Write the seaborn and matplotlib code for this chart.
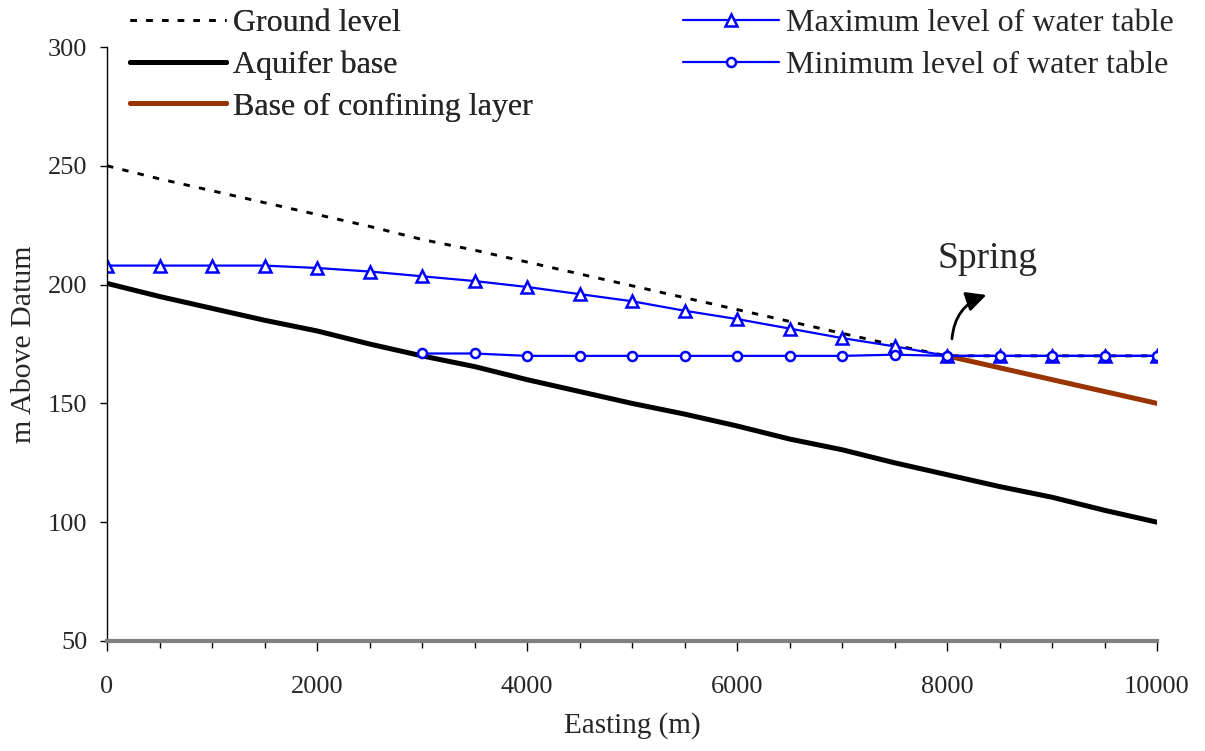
import pandas as pd
import seaborn as sns
import matplotlib.pyplot as plt
from matplotlib.ticker import MultipleLocator

# values (m above datum)
easting = [0, 500, 1000, 1500, 2000, 2500, 3000, 3500, 4000, 4500, 5000,
           5500, 6000, 6500, 7000, 7500, 8000, 8500, 9000, 9500, 10000]
ground = [250, 244.5, 239.5, 234.5, 229.5, 224.5, 219, 214.5, 209.5, 204.5, 199.5,
          194.5, 189.5, 184.5, 179.5, 174.5, 170, 170, 170, 170, 170]
aquifer = [200.5, 195, 190, 185, 180.5, 175, 170, 165.5, 160, 155, 150,
           145.5, 140.5, 135, 130.5, 125, 120, 115, 110.5, 105, 100]
max_wt = [208, 208, 208, 208, 207, 205.5, 203.5, 201.5, 199, 196, 193,
          189, 185.5, 181.5, 177.5, 174, 170, 170, 170, 170, 170]
min_x = [3000, 3500, 4000, 4500, 5000, 5500, 6000, 6500, 7000, 7500, 8000,
         8500, 9000, 9500, 10000]
min_wt = [171, 171, 170, 170, 170, 170, 170, 170, 170, 170.5, 170,
          170, 170, 170, 170]
conf_x = [8000, 10000]
conf_base = [170, 150]

sns.set_style("white")
plt.rcParams['font.family'] = ['Liberation Serif', 'DejaVu Serif']

fig = plt.figure(figsize=(12.05, 7.51), dpi=100)
ax = fig.add_axes([0.0888, 0.1465, 0.8714, 0.7909])

blue = "#0000ff"
brown = "#993300"

sns.lineplot(x=easting, y=ground, ax=ax, color="black", lw=2.1,
             dashes=False, label="Ground level").lines[-1].set_dashes((2.2, 3.2))
sns.lineplot(x=easting, y=aquifer, ax=ax, color="black", lw=3.6,
             label="Aquifer base")
sns.lineplot(x=conf_x, y=conf_base, ax=ax, color=brown, lw=3.6,
             label="Base of confining layer", solid_capstyle="round")
sns.lineplot(x=easting, y=max_wt, ax=ax, color=blue, lw=1.6, marker="^",
             markersize=9, markerfacecolor="white", markeredgecolor=blue,
             markeredgewidth=1.8, label="Maximum level of water table")
sns.lineplot(x=min_x, y=min_wt, ax=ax, color=blue, lw=1.6, marker="o",
             markersize=6.5, markerfacecolor="white", markeredgecolor=blue,
             markeredgewidth=1.8, label="Minimum level of water table")

ax.set_xlim(0, 10000)
ax.set_ylim(50, 300)
ax.xaxis.set_major_locator(MultipleLocator(2000))
ax.xaxis.set_minor_locator(MultipleLocator(500))
ax.yaxis.set_major_locator(MultipleLocator(50))

for s in ["top", "right"]:
    ax.spines[s].set_visible(False)
ax.spines["left"].set_color("black")
ax.spines["left"].set_linewidth(1.0)
ax.spines["bottom"].set_color("#808080")
ax.spines["bottom"].set_linewidth(3)

ax.tick_params(axis="y", which="major", direction="out", length=5, width=1,
               color="black", left=True, labelsize=19, pad=9)
ax.tick_params(axis="x", which="major", direction="out", length=7, width=1,
               color="black", bottom=True, labelsize=19, pad=18)
ax.tick_params(axis="x", which="minor", direction="out", length=5, width=1,
               color="black", bottom=True)

ax.set_xlabel("Easting (m)", fontsize=21, labelpad=10)
ax.set_ylabel("m Above Datum", fontsize=21.5, labelpad=8)

handles, labels = ax.get_legend_handles_labels()
ax.get_legend().remove()
leg_kw = dict(loc="upper left", frameon=False, fontsize=23, handlelength=3.0,
              handletextpad=0.22, labelspacing=0.38, borderaxespad=0,
              borderpad=0)
leg1 = fig.legend(handles[:3], labels[:3], bbox_to_anchor=(0.108, 0.988),
                  **leg_kw)
fig.legend(handles[3:], labels[3:], bbox_to_anchor=(0.567, 0.988), **leg_kw)
fig.add_artist(leg1)

ax.annotate("", xy=(8400, 196), xytext=(8045, 176),
            arrowprops=dict(arrowstyle="-|>", color="black", lw=2,
                            mutation_scale=30,
                            connectionstyle="arc3,rad=-0.35"))
ax.text(8390, 211, "Spring", fontsize=27, ha="center", va="center")

fig.savefig("out.png", dpi=100)
